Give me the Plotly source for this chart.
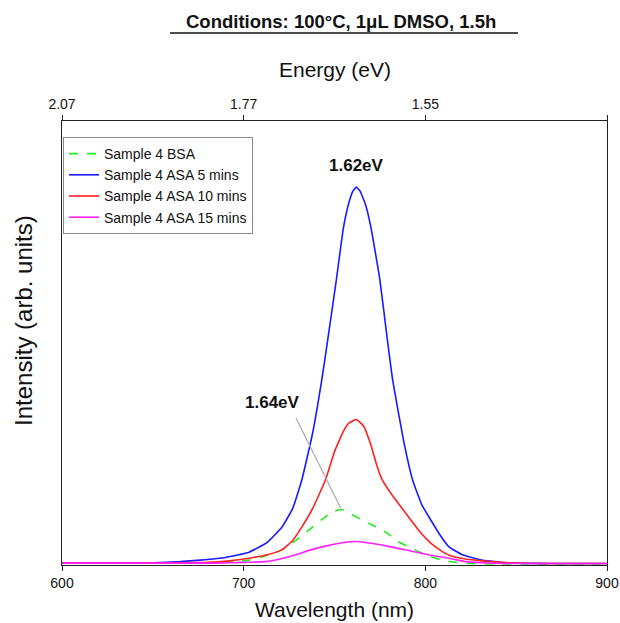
import plotly.graph_objects as go

# ---- data ----
wl_bsa = [600, 650, 685, 703, 712, 721, 729, 736, 743, 749, 754, 758, 765, 771, 776, 781, 785, 791, 797, 803, 809, 817, 825, 840, 860, 900]
int_bsa = [0.005, 0.005, 0.006, 0.013, 0.024, 0.040, 0.066, 0.093, 0.120, 0.141, 0.147, 0.137, 0.120, 0.105, 0.093, 0.077, 0.062, 0.048, 0.034, 0.022, 0.013, 0.007, 0.004, 0.003, 0.003, 0.003]

wl_5 = [600, 630, 650, 665, 676, 690, 703, 713, 721, 727, 732, 738, 743, 747, 751, 755, 758, 760, 762, 764, 767, 770, 775, 779, 782, 788, 793, 798, 803, 808, 813, 820, 831, 840, 849, 870, 900]
int_5 = [0.005, 0.005, 0.006, 0.009, 0.013, 0.020, 0.034, 0.060, 0.100, 0.150, 0.225, 0.350, 0.490, 0.620, 0.754, 0.895, 0.960, 0.988, 1.000, 0.990, 0.955, 0.895, 0.754, 0.600, 0.490, 0.330, 0.225, 0.160, 0.119, 0.080, 0.048, 0.028, 0.013, 0.008, 0.005, 0.004, 0.004]

wl_10 = [600, 650, 680, 692, 703, 713, 721, 727, 731, 738, 745, 750, 755, 758, 762, 766, 770, 773, 776, 781, 785, 792, 797, 803, 808, 813, 822, 831, 845, 870, 900]
int_10 = [0.005, 0.005, 0.007, 0.011, 0.018, 0.027, 0.040, 0.065, 0.093, 0.150, 0.225, 0.300, 0.355, 0.376, 0.385, 0.368, 0.318, 0.268, 0.228, 0.190, 0.164, 0.119, 0.088, 0.058, 0.040, 0.026, 0.016, 0.011, 0.006, 0.004, 0.004]

wl_15 = [600, 650, 685, 700, 712, 725, 737, 745, 752, 757, 762, 768, 776, 785, 794, 803, 813, 822, 831, 845, 870, 900]
int_15 = [0.005, 0.005, 0.005, 0.007, 0.009, 0.022, 0.040, 0.050, 0.057, 0.061, 0.062, 0.059, 0.053, 0.044, 0.035, 0.026, 0.018, 0.009, 0.006, 0.004, 0.004, 0.004]

energy_tick_wl = [600, 700, 800, 900]
energy_tick_text = ["2.07", "1.77", "1.55", "1.38"]
x_ticks = [600, 700, 800, 900]

FONT = "Liberation Sans, Arial, sans-serif"
L, R, T, B, W, H = 62, 13, 121, 58, 620, 623
PW, PH = W - L - R, H - T - B


def px_to_paper(x, y):
    return (x - L) / PW, (H - B - y) / PH


fig = go.Figure()
fig.add_trace(go.Scatter(x=wl_bsa, y=int_bsa, mode="lines", name="Sample 4 BSA",
                         line=dict(color="#22ee22", width=1.6, dash="dash", shape="spline", smoothing=0.4)))
fig.add_trace(go.Scatter(x=wl_5, y=int_5, mode="lines", name="Sample 4 ASA 5 mins",
                         line=dict(color="#1a1aff", width=1.6, shape="spline", smoothing=0.4)))
fig.add_trace(go.Scatter(x=wl_10, y=int_10, mode="lines", name="Sample 4 ASA 10 mins",
                         line=dict(color="#ff2020", width=1.6, shape="spline", smoothing=0.4)))
fig.add_trace(go.Scatter(x=wl_15, y=int_15, mode="lines", name="Sample 4 ASA 15 mins",
                         line=dict(color="#ff20ff", width=1.6, shape="spline", smoothing=0.4)))
# invisible trace to activate top axis
fig.add_trace(go.Scatter(x=[600, 900], y=[None, None], xaxis="x2", showlegend=False, hoverinfo="skip"))

lx, ly = px_to_paper(63, 137)
fig.update_layout(
    width=W, height=H,
    margin=dict(l=L, r=R, t=T, b=B, autoexpand=False),
    paper_bgcolor="white", plot_bgcolor="white",
    font=dict(family=FONT, color="#111111"),
    showlegend=True,
    legend=dict(x=lx, y=ly, xanchor="left", yanchor="top",
                bgcolor="white", bordercolor="#888888", borderwidth=1,
                font=dict(size=14, family=FONT, color="#111111"),
                tracegroupgap=0, itemwidth=30),
    xaxis=dict(range=[600, 900], tickvals=x_ticks, ticktext=[str(v) for v in x_ticks],
               ticks="outside", ticklen=5, tickcolor="#222", showline=True, linecolor="#222",
               linewidth=1.2, showgrid=False, zeroline=False, automargin=False,
               tickfont=dict(size=14, family=FONT),
               title=dict(text="Wavelength (nm)", font=dict(size=21, family=FONT), standoff=12)),
    xaxis2=dict(range=[600, 900], overlaying="x", side="top", tickvals=energy_tick_wl,
                ticktext=energy_tick_text, ticks="outside", ticklen=5, tickcolor="#222",
                showline=True, linecolor="#222", linewidth=1.2, showgrid=False, zeroline=False,
                automargin=False, tickfont=dict(size=14, family=FONT)),
    yaxis=dict(range=[0, 1.175], showticklabels=False, ticks="", showline=True, mirror=True,
               linecolor="#222", linewidth=1.2, showgrid=False, zeroline=False, automargin=False),
)

# y axis title
yx, yy = px_to_paper(23, 321)
fig.add_annotation(xref="paper", yref="paper", x=yx, y=yy, xanchor="center", yanchor="middle",
                   text="Intensity (arb. units)", textangle=-90, showarrow=False,
                   font=dict(size=24, family=FONT, color="#111"))

# top axis title
ex, ey = px_to_paper(335, 69)
fig.add_annotation(xref="paper", yref="paper", x=ex, y=ey, xanchor="center", yanchor="middle",
                   text="Energy (eV)", showarrow=False,
                   font=dict(size=21, family=FONT, color="#111"))

# peak labels
fig.add_annotation(x=762, y=1.056, text="<b>1.62eV</b>", showarrow=False,
                   xanchor="center", yanchor="middle",
                   font=dict(size=17, family=FONT, color="#111"))
fig.add_annotation(x=715.6, y=0.429, text="<b>1.64eV</b>", showarrow=False,
                   xanchor="center", yanchor="middle",
                   font=dict(size=17, family=FONT, color="#111"))
fig.add_shape(type="line", xref="x", yref="y", x0=728.8, y0=0.389, x1=753.4, y1=0.151,
              line=dict(color="#aaaaaa", width=1.2))

# header
tx, ty = px_to_paper(341, 21)
fig.add_annotation(xref="paper", yref="paper", x=tx, y=ty, xanchor="center", yanchor="middle",
                   text="<b>Conditions: 100°C, 1μL DMSO, 1.5h</b>", showarrow=False,
                   font=dict(size=18.5, family=FONT, color="#111"))
ux0, uy = px_to_paper(170, 33)
ux1, _ = px_to_paper(518, 33)
fig.add_shape(type="line", xref="paper", yref="paper", x0=ux0, x1=ux1, y0=uy, y1=uy,
              line=dict(color="#111", width=1.5))

fig.write_html("out.html", config={"displayModeBar": False},
               post_script="document.body.style.margin='0';document.body.style.padding='0';")
